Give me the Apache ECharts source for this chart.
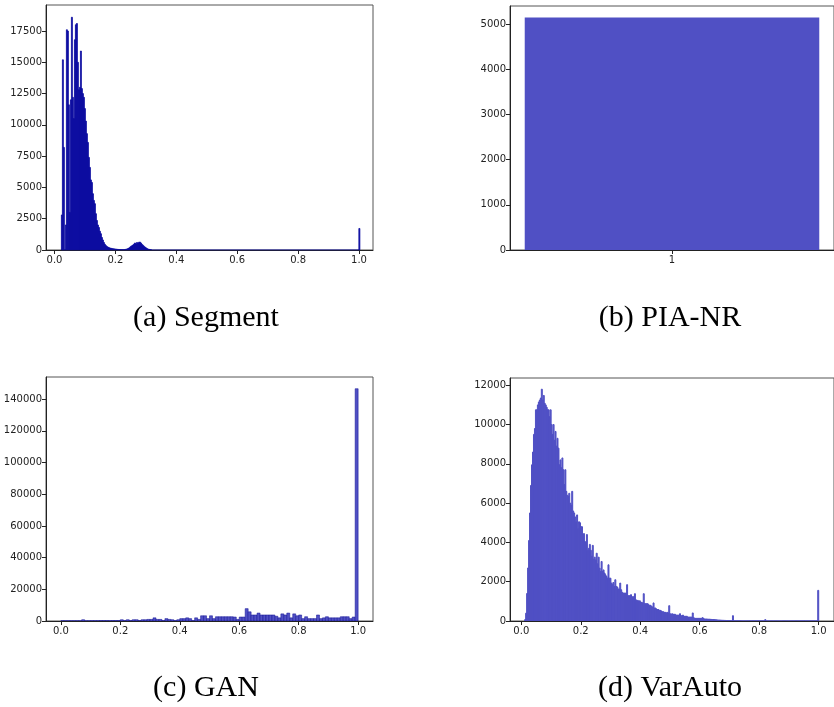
<!DOCTYPE html>
<html><head><meta charset="utf-8">
<script src="https://cdn.jsdelivr.net/npm/echarts@6/dist/echarts.min.js"></script>
<style>html,body{margin:0;padding:0;background:#fff}#c{width:834px;height:707px}</style>
</head><body><div id="c"></div>
<script>
// ---------- DATA ----------
// (a) Segment histogram: bins of equal width starting at segStart
const segStart = 0.0225, segWidth = 0.00329;
const segCounts = [2800,15200,8200,0,2000,17600,17500,11600,3000,12000,
 18600,12200,10500,16800,18000,18100,15000,12800,13000,15900,
 12900,12500,12200,11300,10300,9300,8600,7400,6600,5600,
 5400,4500,3960,3700,2900,2360,2000,1800,1500,1300,
 1000,800,600,450,350,280,230,190,160,140,
 120,100,90,80,70,55,45,35,30,25,
 20,20,15,40,60,80,110,160,220,290,
 340,400,470,560,480,600,540,620,630,560,
 450,380,300,230,170,120,80,50,30,15];
const segSpikeLeft = 0.9996, segSpikeCount = 1720;
const segEnd = 1.0029;

// (b) PIA-NR: single bin
const piaBinLeft = 0.5, piaBinRight = 1.5, piaCount = 5150;

// (c) GAN: 100 bins on [0,1]
const ganStart = 0.0, ganWidth = 0.01;
const ganCounts = [200,200,200,200,200,200,200,800,200,200,
 250,250,250,300,300,300,250,300,300,300,
 800,300,800,300,800,800,300,800,800,1000,
 1000,2000,1000,1000,300,1500,1000,800,300,800,
 1500,1500,2000,1500,300,2000,1000,3300,3300,1500,
 3300,1500,2700,2700,2700,2700,2700,2700,2500,1000,
 2500,2500,7800,5800,3800,3800,5000,3800,3800,3800,
 3800,3800,3000,2000,4500,3800,5000,2000,4500,3300,
 3800,1500,2700,1500,1500,1500,3800,1500,2000,2700,
 2000,2000,2000,2000,2700,2700,2700,1500,2500,146600];

// (d) VarAuto: 300 bins
const vaeStart = 0.0113, vaeWidth = 0.003296;
const vaeCounts = [70,400,1400,2700,4100,5500,6900,7950,8600,9500,
 9800,10750,10750,11000,11150,11250,11350,11800,11250,11480,
 11080,11000,10880,10750,10750,10400,10750,10000,9500,10000,
 9200,9650,8900,9300,8800,7950,8200,7800,8300,7700,
 6950,7700,6600,6400,6350,6500,6000,5900,6600,5600,
 5500,5300,5050,5400,4700,5050,5000,4800,4800,4400,
 4450,4050,4000,4400,3600,3700,3900,3600,3300,3850,
 3150,3250,3110,3450,2910,3250,2690,2520,3030,2520,
 2600,2440,2350,2270,2180,2860,2180,2180,1930,1850,
 1960,1760,2100,1760,1730,1630,1630,1930,1590,1460,
 1420,1420,1420,1420,1850,1290,1290,1290,1340,1250,
 1170,1250,1390,1080,1030,1050,1000,1030,950,950,
 920,1390,880,880,880,880,830,780,800,740,
 710,920,660,660,610,580,580,540,540,510,
 470,470,440,440,410,440,410,780,370,340,
 370,340,340,340,300,300,300,300,370,270,
 270,300,240,240,240,240,200,200,200,200,
 200,410,170,135,135,135,135,135,135,135,
 135,170,135,100,100,100,95,90,90,85,
 80,75,75,70,65,60,55,50,50,45,
 40,35,35,30,30,25,25,20,20,20,
 15,15,270,15,12,12,10,10,8,8,
 8,5,5,5,5,5,5,5,5,5,
 5,5,5,5,5,5,5,5,5,5,
 5,5,5,5,5,70,3,3,3,3,
 3,3,3,3,3,3,3,3,3,3,
 3,3,3,3,3,3,3,3,3,3,
 3,3,3,3,3,3,3,3,3,3,
 3,3,3,3,3,3,3,3,3,3,
 3,3,3,3,3,3,3,3,3,1560];

// tick labels
const xTicks01 = [0, 0.2, 0.4, 0.6, 0.8, 1.0];
const segYTicks = [0,2500,5000,7500,10000,12500,15000,17500];
const piaXTicks = [1];
const piaYTicks = [0,1000,2000,3000,4000,5000];
const ganYTicks = [0,20000,40000,60000,80000,100000,120000,140000];
const vaeYTicks = [0,2000,4000,6000,8000,10000,12000];
const captions = ['(a) Segment', '(b) PIA-NR', '(c) GAN', '(d) VarAuto'];

// ---------- BUILD ----------
function bins(start, width, counts) {
  const out = [];
  counts.forEach((c, i) => { if (c > 0) out.push([start + i * width, start + (i + 1) * width, c]); });
  return out;
}
const segData = bins(segStart, segWidth, segCounts);
segData.push([segSpikeLeft, segSpikeLeft + segWidth, segSpikeCount]);
const piaData = [[piaBinLeft, piaBinRight, piaCount]];
const ganData = bins(ganStart, ganWidth, ganCounts);
const vaeData = bins(vaeStart, vaeWidth, vaeCounts);

function histRender(style) {
  return function (params, api) {
    const a = api.coord([api.value(0), api.value(2)]);
    const b = api.coord([api.value(1), 0]);
    return { type: 'rect', shape: { x: a[0], y: a[1], width: b[0] - a[0], height: b[1] - a[1] }, style: style };
  };
}

const labelFont = { fontFamily: 'DejaVu Sans', fontSize: 10, color: '#222' };
function xAxis(gi, min, max, ticks, fmt) {
  return {
    type: 'value', gridIndex: gi, min: min, max: max,
    axisLine: { show: true, onZero: false, lineStyle: { color: '#222', width: 1 } },
    axisTick: { show: true, length: 4, customValues: ticks, lineStyle: { color: '#222' } },
    axisLabel: Object.assign({ customValues: ticks, margin: 5, formatter: fmt }, labelFont),
    splitLine: { show: false }
  };
}
function yAxis(gi, max, ticks) {
  return {
    type: 'value', gridIndex: gi, min: 0, max: max,
    axisLine: { show: true, onZero: false, lineStyle: { color: '#222', width: 1 } },
    axisTick: { show: true, length: 4, customValues: ticks, lineStyle: { color: '#222' } },
    axisLabel: Object.assign({ customValues: ticks, margin: 4, formatter: v => String(v) }, labelFont),
    splitLine: { show: false }
  };
}
const f1 = v => v.toFixed(1);
const gridBase = { show: true, borderColor: '#555', borderWidth: 1, backgroundColor: 'transparent', containLabel: false };

const fill = '#5050c4';
const option = {
  animation: false,
  grid: [
    Object.assign({ left: 46, top: 5, width: 327, height: 245 }, gridBase),
    Object.assign({ left: 510, top: 6, width: 328, height: 244 }, gridBase),
    Object.assign({ left: 46, top: 377, width: 327, height: 244 }, gridBase),
    Object.assign({ left: 510, top: 378, width: 328, height: 243 }, gridBase)
  ],
  xAxis: [
    xAxis(0, -0.028, 1.046, xTicks01, f1),
    xAxis(1, 0.45, 1.55, piaXTicks, v => String(Math.round(v))),
    xAxis(2, -0.05, 1.05, xTicks01, f1),
    xAxis(3, -0.038, 1.0515, xTicks01, f1)
  ],
  yAxis: [
    yAxis(0, 19580, segYTicks),
    yAxis(1, 5405, piaYTicks),
    yAxis(2, 154000, ganYTicks),
    yAxis(3, 12370, vaeYTicks)
  ],
  series: [
    { type: 'custom', xAxisIndex: 0, yAxisIndex: 0, clip: true, data: segData,
      renderItem: histRender({ fill: '#0c0ca4', stroke: '#0a0aa0', lineWidth: 0.8 }) },
    { type: 'line', xAxisIndex: 0, yAxisIndex: 0, symbol: 'none', silent: true,
      data: [[segStart, 0], [segEnd, 0]], lineStyle: { color: '#10109a', width: 1.2 } },
    { type: 'custom', xAxisIndex: 1, yAxisIndex: 1, clip: true, data: piaData,
      renderItem: histRender({ fill: fill }) },
    { type: 'custom', xAxisIndex: 2, yAxisIndex: 2, clip: true, data: ganData,
      renderItem: histRender({ fill: fill, stroke: 'rgba(20,20,150,0.75)', lineWidth: 0.7 }) },
    { type: 'custom', xAxisIndex: 3, yAxisIndex: 3, clip: true, data: vaeData,
      renderItem: histRender({ fill: fill, stroke: fill, lineWidth: 1 }) }
  ],
  graphic: [
    [206, 318], [670, 318], [206, 688], [670, 688]
  ].map((p, i) => ({
    type: 'text', x: p[0], y: p[1],
    style: { text: captions[i], font: '30px "Liberation Serif"', fill: '#000',
      align: 'center', verticalAlign: 'middle', textAlign: 'center', textVerticalAlign: 'middle' }
  }))
};
const chart = echarts.init(document.getElementById('c'), null, { renderer: 'canvas' });
chart.setOption(option);
</script></body></html>
